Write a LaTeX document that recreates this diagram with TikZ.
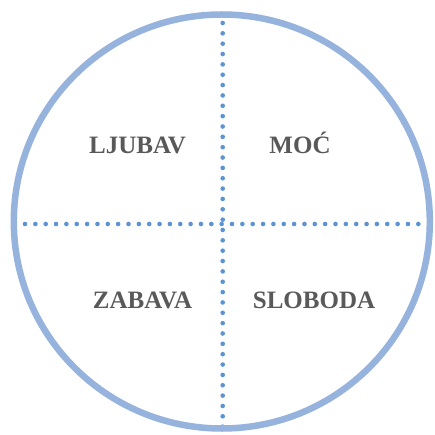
\documentclass[tikz,border=0pt]{standalone}
\usepackage{fontspec}
\setmainfont{Liberation Serif}
\definecolor{ringblue}{HTML}{95B3DC}
\definecolor{dotblue}{HTML}{5B93D3}
\definecolor{txtgray}{HTML}{595959}
\begin{document}
\begin{tikzpicture}[x=1pt,y=-1pt,
  ring/.style={draw=ringblue,line width=6.5pt},
  dotline/.style={draw=dotblue,line width=4.6pt,line cap=round,dash pattern=on 0pt off 10.35pt},
  lbl/.style={text=txtgray,font=\fontsize{25}{27}\selectfont\bfseries,anchor=base,inner sep=0pt}]
\useasboundingbox (0,0) rectangle (434,435);
\fill[white] (0,0) rectangle (434,435);
\coordinate (vtop) at (222.7,23);
\coordinate (vbot) at (222.7,430);
\coordinate (hleft) at (25,224);
\coordinate (hright) at (423,224);
\draw[dotline] (vtop) -- (vbot);
\draw[dotline] (hleft) -- (hright);
\draw[ring] (221.8,221.5) ellipse [x radius=208, y radius=207];
\node[lbl] (ljubav) at (137.5,153.5) {LJUBAV};
\node[lbl] (moc) at (300,153.5) {MOĆ};
\node[lbl] (zabava) at (142.5,308.5) {ZABAVA};
\node[lbl] (sloboda) at (314,308.5) {SLOBODA};
\end{tikzpicture}
\end{document}
